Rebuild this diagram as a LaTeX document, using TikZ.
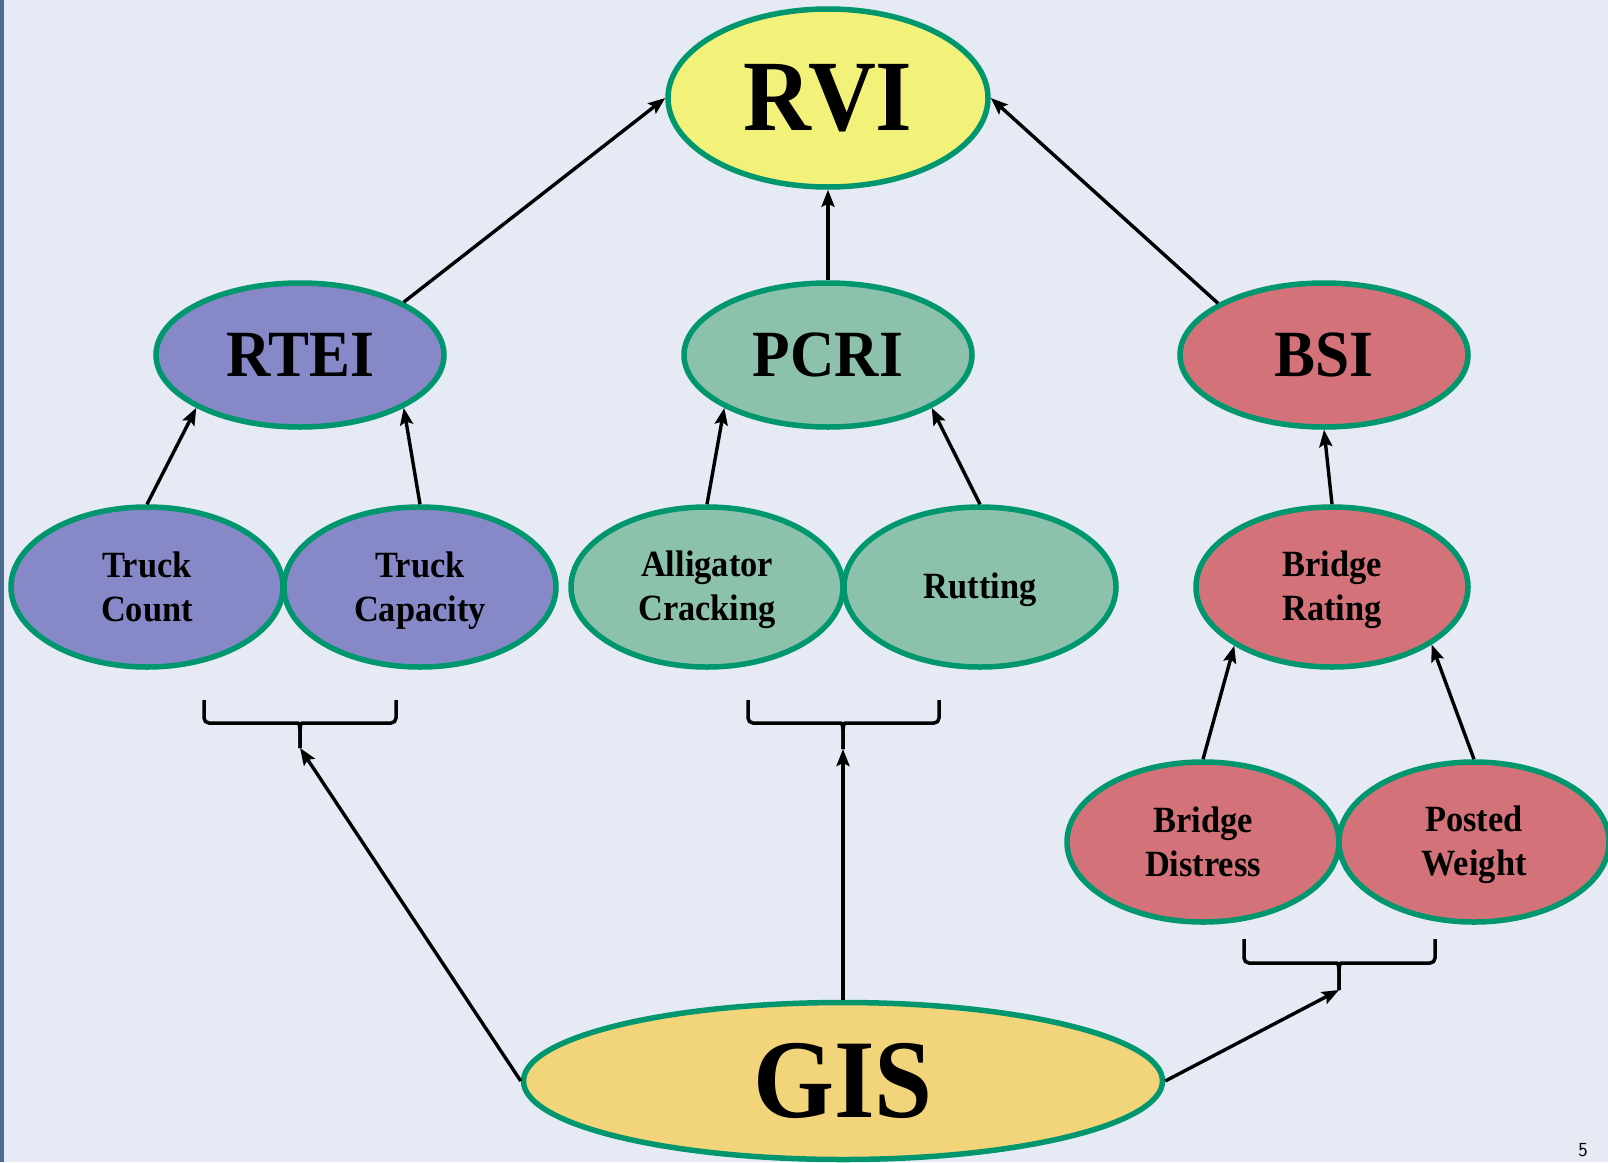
\documentclass[tikz,border=0pt]{standalone}
\usepackage{fontspec}
\newfontfamily\lab[FakeStretch=0.93]{Liberation Serif}
\usetikzlibrary{shapes.geometric,arrows.meta}
\definecolor{bg}{HTML}{E5EAF4}
\definecolor{strip}{HTML}{4B6A92}
\definecolor{bordergreen}{HTML}{00966E}
\definecolor{rviyellow}{HTML}{F2F27A}
\definecolor{purp}{HTML}{8788C8}
\definecolor{sage}{HTML}{8CC2AC}
\definecolor{rose}{HTML}{D4727A}
\definecolor{gisyellow}{HTML}{F2D57A}
\newcommand\lstrut{\rule[-7pt]{0pt}{39pt}}
\begin{document}
\begin{tikzpicture}[x=1pt,y=-1pt,
  ell/.style={ellipse, draw=bordergreen, line width=5.5pt, inner sep=0pt, align=center, text=black},
  bigell/.style={ell, minimum width=288pt, minimum height=144pt, font=\lab\bfseries\fontsize{66}{70}\selectfont},
  smallell/.style={ell, minimum width=272pt, minimum height=160pt, font=\lab\bfseries\fontsize{37}{44}\selectfont},
  arr/.style={line width=3.4pt, -{Stealth[length=17pt,width=13pt,inset=3pt]}},
  bracestyle/.style={line width=3.5pt, rounded corners=5pt}]
\useasboundingbox (0,0) rectangle (1608,1162);
\clip (0,0) rectangle (1608,1162);
\fill[bg] (0,0) rectangle (1608,1162);
\fill[strip] (0,0) rectangle (4,1162);

% top
\node[ell, fill=rviyellow, minimum width=320pt, minimum height=178pt,
      font=\lab\bfseries\fontsize{101}{104}\selectfont] (rvi) at (828,98) {RVI};

% middle row
\node[bigell, fill=purp] (rtei) at (300,355) {RTEI};
\node[bigell, fill=sage] (pcri) at (828,355) {PCRI};
\node[bigell, fill=rose] (bsi) at (1324,355) {BSI};

% lower row
\node[smallell, fill=purp] (tc) at (147,587) {Truck\lstrut\\Count\lstrut};
\node[smallell, fill=purp] (tcap) at (420,587) {Truck\lstrut\\Capacity\lstrut};
\node[smallell, fill=sage] (ac) at (707,587) {Alligator\lstrut\\Cracking\lstrut};
\node[smallell, fill=sage] (rut) at (980,587) {Rutting\lstrut};
\node[smallell, fill=rose] (br) at (1332,587) {Bridge\lstrut\\Rating\lstrut};
\node[smallell, fill=rose] (bd) at (1203,842) {Bridge\lstrut\\Distress\lstrut};
\node[smallell, fill=rose, minimum width=270pt] (pw) at (1474,842) {Posted\lstrut\\Weight\lstrut};

% GIS
\node[ell, fill=gisyellow, minimum width=639pt, minimum height=157pt,
      font=\lab\bfseries\fontsize{112}{115}\selectfont] (gis) at (843,1081) {GIS};

% braces
\coordinate (b1) at (300,748);
\coordinate (b2) at (843,749);
\coordinate (b3) at (1339,990);
\draw[bracestyle] (204,700) -- (204,723) -- (293,723) .. controls (299,723) and (300,727) .. (300,735) -- (b1);
\draw[bracestyle] (396,700) -- (396,723) -- (307,723) .. controls (301,723) and (300,727) .. (300,735) -- (b1);
\draw[bracestyle] (748,700) -- (748,723) -- (836,723) .. controls (842,723) and (843,727) .. (843,735) -- (b2);
\draw[bracestyle] (939,700) -- (939,723) -- (850,723) .. controls (844,723) and (843,727) .. (843,735) -- (b2);
\draw[bracestyle] (1244,939) -- (1244,963) -- (1332,963) .. controls (1338,963) and (1339,967) .. (1339,975) -- (b3);
\draw[bracestyle] (1435,939) -- (1435,963) -- (1346,963) .. controls (1340,963) and (1339,967) .. (1339,975) -- (b3);

% arrows
\draw[arr] (rtei.27) -- (rvi.west);
\draw[arr] (pcri.north) -- (rvi.south);
\draw[arr] (bsi.154) -- (rvi.east);
\draw[arr] (tc.north) -- (rtei.207);
\draw[arr] (tcap.north) -- (rtei.333);
\draw[arr] (ac.north) -- (pcri.207);
\draw[arr] (rut.north) -- (pcri.333);
\draw[arr] (br.north) -- (bsi.south);
\draw[arr] (bd.north) -- (br.211);
\draw[arr] (pw.north) -- (br.330);
\draw[arr] (gis.west) -- (b1);
\draw[arr] (gis.north) -- (b2);
\draw[arr] (gis.east) -- (b3);

% page number
\node[font=\sffamily\fontsize{20}{22}\selectfont, anchor=north, inner sep=0pt] (pg) at (1583,1143) {5};
\end{tikzpicture}
\end{document}
